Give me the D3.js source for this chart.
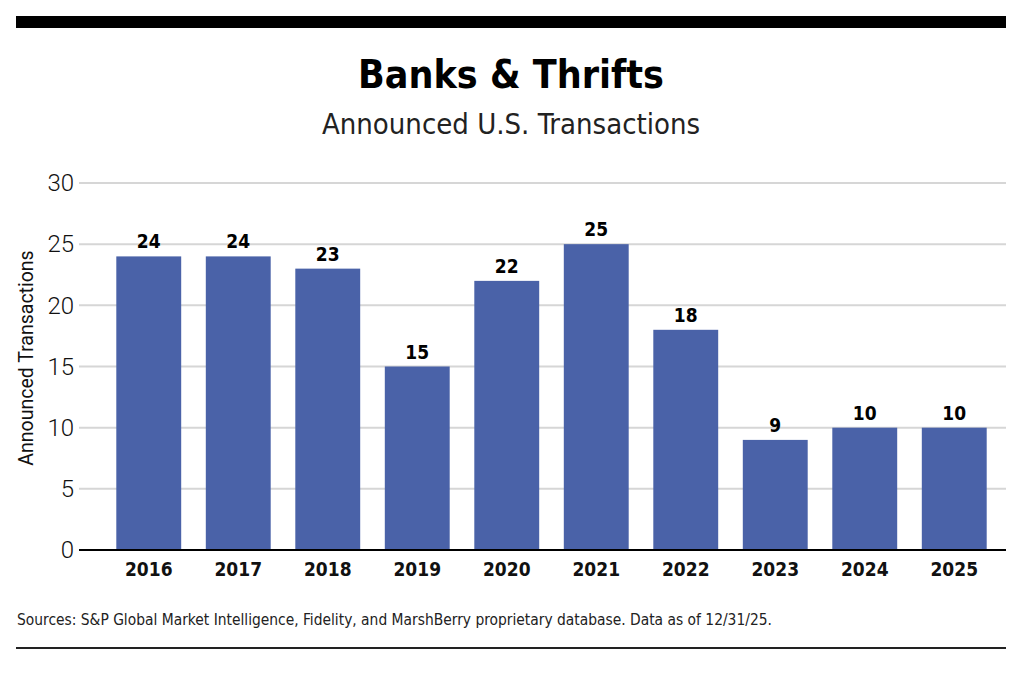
<!DOCTYPE html>
<html>
<head>
<meta charset="utf-8">
<script src="https://cdn.jsdelivr.net/npm/d3@7"></script>
<style>
  body { margin: 0; background: #fff; }
</style>
</head>
<body>
<div class="bar-chart"></div>
<script>
const years = ["2016", "2017", "2018", "2019", "2020", "2021", "2022", "2023", "2024", "2025"]
const transactions = [24, 24, 23, 15, 22, 25, 18, 9, 10, 10]
const yTicks = [0, 5, 10, 15, 20, 25, 30]

const narrow = "'Liberation Sans Narrow', 'DejaVu Sans Condensed', sans-serif"

const width = 1024, height = 674
const plot = {left: 79, right: 1006, top: 183, bottom: 550}

const svg = d3.select(".bar-chart")
    .append("svg")
        .attr("width", width)
        .attr("height", height)

// top rule
svg.append("rect")
    .attr("x", 16).attr("y", 16)
    .attr("width", 990).attr("height", 12)
    .attr("fill", "#000")

svg.append("text")
    .attr("x", 511).attr("y", 88)
    .attr("text-anchor", "middle")
    .style("font-family", narrow)
    .style("font-weight", "bold")
    .style("font-size", "39px")
    .text("Banks & Thrifts")

svg.append("text")
    .attr("x", 511).attr("y", 134)
    .attr("text-anchor", "middle")
    .style("font-family", narrow)
    .style("font-size", "29px")
    .style("fill", "#222")
    .text("Announced U.S. Transactions")

// bars sit inside 104..999, not the full gridline width
let x = d3.scaleBand()
    .domain(years)
    .range([104, 999])
    .paddingInner(0.275)
    .paddingOuter(0.1375)

let y = d3.scaleLinear()
    .domain([0, 30])
    .range([plot.bottom, plot.top])

// gridlines
svg.append("g")
    .selectAll("line")
    .data(yTicks.filter(d => d > 0))
    .enter()
    .append("line")
        .attr("x1", plot.left).attr("x2", plot.right)
        .attr("y1", d => y(d)).attr("y2", d => y(d))
        .attr("stroke", "#d6d6d6")
        .attr("stroke-width", 2)

// y tick labels
svg.append("g")
    .attr("transform", "translate(" + plot.left + ",0)")
    .call(d3.axisLeft(y).tickValues(yTicks).tickSize(0).tickPadding(5))
    .call(g => g.select(".domain").remove())
    .selectAll("text")
        .style("font-family", "Roboto, sans-serif")
        .style("font-weight", "300")
        .style("font-size", "24px")
        .style("fill", "#111")

svg.selectAll("rect.bar")
    .data(transactions)
    .enter()
    .append("rect")
        .attr("class", "bar")
        .attr("x", (d, i) => x(years[i]))
        .attr("y", d => y(d))
        .attr("width", x.bandwidth())
        .attr("height", d => y(0) - y(d))
        .attr("fill", "#4a62a8")

svg.selectAll("text.val")
    .data(transactions)
    .enter()
    .append("text")
        .attr("class", "val")
        .attr("x", (d, i) => x(years[i]) + x.bandwidth() / 2)
        .attr("y", d => y(d) - 8)
        .attr("text-anchor", "middle")
        .style("font-family", narrow)
        .style("font-weight", "bold")
        .style("font-size", "19px")
        .text(d => d)

// x axis
svg.append("g")
    .attr("transform", "translate(0," + plot.bottom + ")")
    .call(d3.axisBottom(x).tickSize(0).tickPadding(13))
    .call(g => g.select(".domain")
        .attr("d", "M" + plot.left + ",0H" + plot.right)
        .attr("stroke", "#000").attr("stroke-width", 2))
    .selectAll("text")
        .style("font-family", narrow)
        .style("font-weight", "bold")
        .style("font-size", "19px")
        .style("fill", "#111")

svg.append("text")
    .attr("transform", "translate(33," + 358 + ") rotate(-90)")
    .attr("text-anchor", "middle")
    .style("font-family", "Roboto, sans-serif")
    .style("font-size", "19.5px")
    .style("fill", "#111")
    .text("Announced Transactions")

svg.append("text")
    .attr("x", 17).attr("y", 625)
    .style("font-family", narrow)
    .style("font-size", "15.4px")
    .style("fill", "#222")
    .text("Sources: S&P Global Market Intelligence, Fidelity, and MarshBerry proprietary database. Data as of 12/31/25.")

// bottom rule
svg.append("rect")
    .attr("x", 16).attr("y", 647)
    .attr("width", 990).attr("height", 2)
    .attr("fill", "#222")
</script>
</body>
</html>
